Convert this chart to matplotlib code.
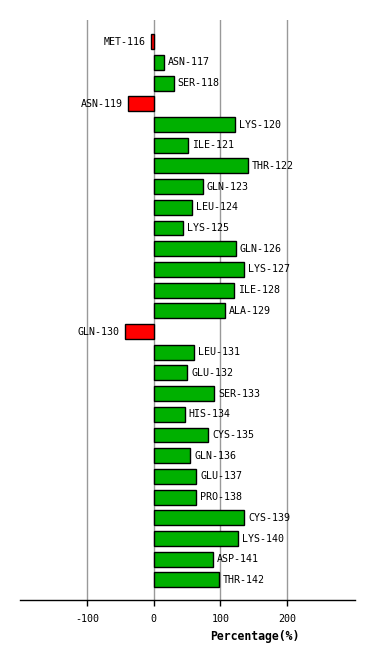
import matplotlib
matplotlib.use('Agg')
import matplotlib.pyplot as plt

residues = ['MET-116', 'ASN-117', 'SER-118', 'ASN-119', 'LYS-120', 'ILE-121', 'THR-122',
            'GLN-123', 'LEU-124', 'LYS-125', 'GLN-126', 'LYS-127', 'ILE-128', 'ALA-129',
            'GLN-130', 'LEU-131', 'GLU-132', 'SER-133', 'HIS-134', 'CYS-135', 'GLN-136',
            'GLU-137', 'PRO-138', 'CYS-139', 'LYS-140', 'ASP-141', 'THR-142']
values = [-5, 15, 30, -39, 122, 51.5, 141, 73.5, 57, 43.5, 123, 135.5, 120.5, 107,
          -43.5, 60, 50, 90.5, 46.5, 81.5, 54.5, 63.5, 63.5, 135.5, 126.5, 89, 98]
xticks = [-100, 0, 100, 200]

font = 'DejaVu Sans Mono'

fig = plt.figure(figsize=(3.74, 6.6), dpi=100)
ax = fig.add_axes([20 / 374, 60 / 660, 335 / 374, 580 / 660])

pos = list(range(len(residues)))
cols = ['#ff0000' if v < 0 else '#00b000' for v in values]
ax.barh(pos, values, height=0.72, color=cols, edgecolor='black', linewidth=1, zorder=3)

for p, v, name in zip(pos, values, residues):
    if v < 0:
        ax.text(v - 8, p, name, ha='right', va='center', fontsize=7.2, family=font)
    else:
        ax.text(v + 6, p, name, ha='left', va='center', fontsize=7.2, family=font)

ax.set_xlim(-201, 302)
ax.set_ylim(len(residues) - 1 + 0.97, -1.05)
for t in xticks:
    ax.axvline(t, color='#999999', linewidth=1, zorder=1)

for s in ['top', 'left', 'right']:
    ax.spines[s].set_visible(False)
ax.spines['bottom'].set_linewidth(1)
ax.set_yticks([])
ax.set_xticks(xticks)
ax.set_xticklabels([str(t) for t in xticks], family=font, fontsize=7.2)
ax.tick_params(axis='x', length=4, width=1, pad=6)
ax.set_xlabel('Percentage(%)', family=font, fontsize=8.3, fontweight='bold')
ax.xaxis.set_label_coords(0.70, -0.052)

fig.savefig('out.png', dpi=100)
